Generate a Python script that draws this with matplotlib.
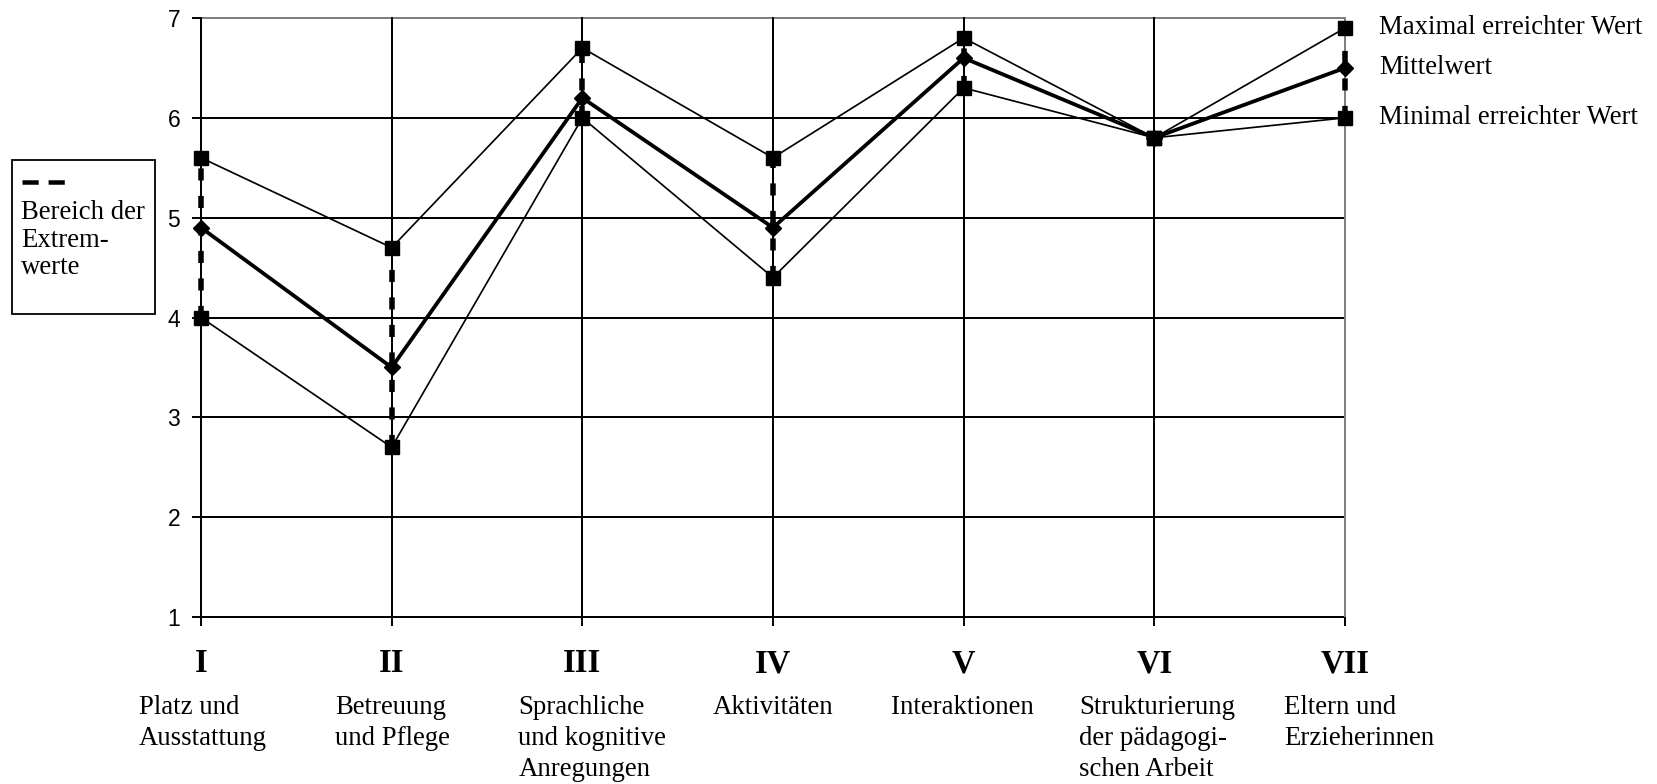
import matplotlib
matplotlib.use("Agg")
import matplotlib.pyplot as plt
from matplotlib.transforms import blended_transform_factory, offset_copy
from matplotlib.patches import Rectangle
from matplotlib.lines import Line2D

roman = ["I", "II", "III", "IV", "V", "VI", "VII"]
categories = ["Platz und\nAusstattung", "Betreuung\nund Pflege",
              "Sprachliche\nund kognitive\nAnregungen", "Aktivitäten",
              "Interaktionen", "Strukturierung\nder pädagogi-\nschen Arbeit",
              "Eltern und\nErzieherinnen"]
max_vals = [5.6, 4.7, 6.7, 5.6, 6.8, 5.8, 6.9]
mean_vals = [4.9, 3.5, 6.2, 4.9, 6.6, 5.8, 6.5]
min_vals = [4.0, 2.7, 6.0, 4.4, 6.3, 5.8, 6.0]
series_names = ["Maximal erreichter Wert", "Mittelwert", "Minimal erreichter Wert"]
range_label = "Bereich der\nExtrem-\nwerte"
yticks = [1, 2, 3, 4, 5, 6, 7]

# layout: horizontal nudge (pixels) of each category label block
label_dx_px = [2, 1, 10, 0, -1, 3, 14]

W, H = 1657, 784
fig = plt.figure(figsize=(W / 100, H / 100), dpi=100)
ax = fig.add_axes([201 / W, 1 - 617 / H, (1345 - 201) / W, (617 - 18) / H])

x = list(range(len(roman)))
ax.set_xlim(x[0], x[-1])
ax.set_ylim(1, 7)

PX = 72 / 100  # points per pixel

# grid
for yv in yticks:
    col = "#808080" if yv == 7 else "black"
    ax.axhline(yv, color=col, lw=2.0 * PX, zorder=1, clip_on=False)
for xv in x:
    col = "#808080" if xv == x[-1] else "black"
    ax.axvline(xv, color=col, lw=2.0 * PX, zorder=1, clip_on=False)

# range dashed lines
ax.vlines(x, min_vals, max_vals, colors="black", lw=5.5 * PX,
          linestyles=[(0, (2.2, 2.8))], zorder=2, clip_on=False)

ms_sq = 14 * PX
ax.plot(x, max_vals, color="black", lw=1.7 * PX, marker="s", ms=ms_sq,
        zorder=3, clip_on=False)
ax.plot(x, min_vals, color="black", lw=1.7 * PX, marker="s", ms=ms_sq,
        zorder=3, clip_on=False)
ax.plot(x, mean_vals, color="black", lw=3.8 * PX, marker="D", ms=12 * PX,
        zorder=4, clip_on=False)

for s in ax.spines.values():
    s.set_visible(False)

ax.set_yticks(yticks)
ax.set_yticklabels([str(v) for v in yticks], fontfamily="Liberation Sans",
                   fontsize=16.5)
ax.tick_params(axis="y", length=6.5, width=1.4, pad=8.5, color="black")
ax.set_xticks(x)
ax.set_xticklabels([""] * len(x))
ax.tick_params(axis="x", length=6.5, width=1.4, direction="out", color="black")

trans = blended_transform_factory(ax.transData, fig.transFigure)
for xi, r, c, dx in zip(x, roman, categories, label_dx_px):
    ax.text(xi, 1 - 664 / H, r, transform=trans, ha="center", va="center",
            fontfamily="Liberation Serif", fontweight="bold", fontsize=23.5)
    t2 = offset_copy(trans, fig=fig, x=dx, y=0, units="dots")
    ax.text(xi, 1 - 695 / H, c, transform=t2, ha="center", va="top",
            multialignment="left", fontfamily="Liberation Serif",
            fontsize=19.3, linespacing=1.32)

# right labels
for name, v in zip(series_names, [max_vals[-1], mean_vals[-1], min_vals[-1]]):
    ax.text(1379 / W, v, name,
            transform=blended_transform_factory(fig.transFigure, ax.transData),
            ha="left", va="center", fontfamily="Liberation Serif", fontsize=19.3)

# left legend box
fig.patches.append(Rectangle((12 / W, 1 - 314 / H), (155 - 12) / W, (314 - 160) / H,
                             transform=fig.transFigure, fill=False,
                             edgecolor="black", lw=1.3))
fig.lines.append(Line2D([22 / W, 66 / W], [1 - 182 / H, 1 - 182 / H],
                        transform=fig.transFigure, color="black", lw=4.5 * PX,
                        linestyle=(0, (3.6, 2.2))))
fig.text(21 / W, 1 - 200 / H, range_label, ha="left", va="top",
         fontfamily="Liberation Serif", fontsize=19.3, linespacing=1.14)

fig.savefig("out.png", dpi=100)
